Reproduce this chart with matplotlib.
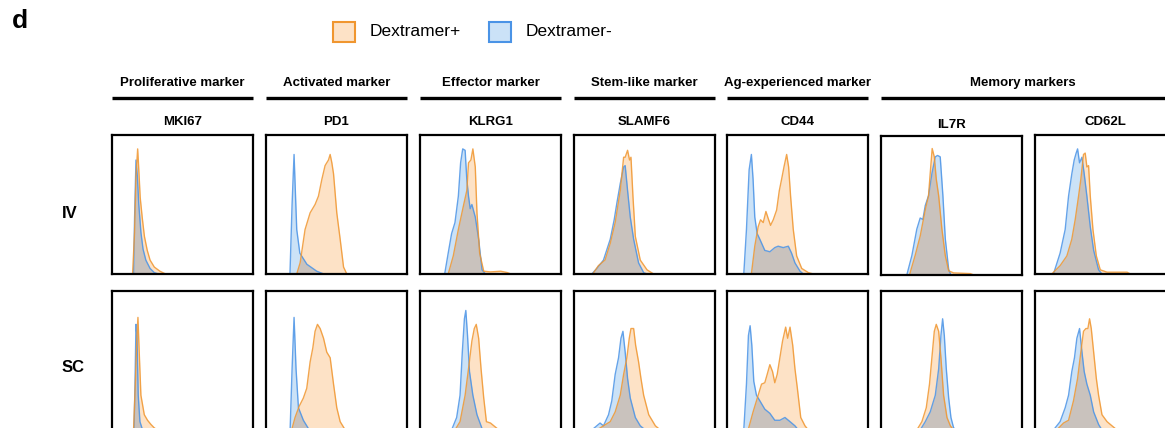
import numpy as np
import matplotlib
matplotlib.use("Agg")
import matplotlib.pyplot as plt
from matplotlib.patches import Rectangle

plt.rcParams['font.family'] = ['Liberation Sans', 'DejaVu Sans']

# column headers
groups = ["Proliferative marker", "Activated marker", "Effector marker",
          "Stem-like marker", "Ag-experienced marker", "Memory markers"]
group_span = [(0, 0), (1, 1), (2, 2), (3, 3), (4, 4), (5, 6)]
markers = ["MKI67", "PD1", "KLRG1", "SLAMF6", "CD44", "IL7R", "CD62L"]
rows = ["IV", "SC"]

# histogram outlines: (x % of panel width, height fraction)
# IV row, Dextramer+ (orange) / Dextramer- (blue)
iv_mki67_pos = [(14.6, 0), (16, .3), (17, .7), (18.2, .9), (19, .75), (20, .55), (21.5, .4),
                (23, .27), (25, .17), (27, .1), (30, .05), (34, .02), (38, 0)]
iv_mki67_neg = [(15.3, 0), (16, .4), (17, .82), (18, .7), (19, .5), (20.5, .3), (22, .18),
                (24, .1), (27, .04), (30, .01), (33, 0)]
iv_pd1_pos = [(21.8, 0), (24.2, .08), (27.7, .32), (31.3, .44), (34.8, .5), (37.2, .56),
              (39.6, .68), (41.9, .78), (44.3, .82), (45.5, .86), (46.7, .8), (47.9, .72),
              (50.2, .44), (52.6, .25), (55, .05), (57.3, 0)]
iv_pd1_neg = [(17, 0), (18.5, .5), (19.9, .86), (20.8, .6), (21.8, .32), (24, .15),
              (29, .07), (36, .02), (41, 0)]
iv_klrg1_pos = [(20, 0), (23.6, .13), (27.2, .32), (30.8, .49), (33.2, .6), (34.4, .8),
                (36.1, .82), (37.5, .9), (39.2, .77), (40.4, .44), (42.3, .15), (45.2, .02),
                (50, .015), (57.2, .02), (62, .01), (64.4, 0)]
iv_klrg1_neg = [(17.5, 0), (20, .15), (22.4, .29), (24.8, .37), (27.2, .56), (28.8, .8),
                (30.3, .9), (32, .89), (33.2, .68), (34.4, .56), (35.6, .47), (36.8, .5),
                (39.2, .41), (41.6, .25), (44, .03), (46.4, 0)]
iv_slamf6_pos = [(13.3, 0), (17.3, .06), (22, .1), (25.7, .22), (29.2, .37), (32.8, .6),
                 (35.2, .84), (36.3, .84), (38, .89), (39.4, .82), (40.4, .84), (41.8, .56),
                 (43.5, .27), (47, .1), (51.8, .03), (56.5, 0)]
iv_slamf6_neg = [(12.6, 0), (16.2, .04), (20.9, .1), (25.7, .25), (28.5, .39), (30.4, .51),
                 (32.8, .65), (35.2, .77), (36.3, .78), (38, .6), (39.9, .41), (42.3, .25),
                 (45.8, .08), (49.4, .01), (51.8, 0)]
iv_cd44_pos = [(17.3, 0), (19.7, .2), (22.1, .34), (23.8, .39), (25.7, .37), (27.6, .45),
               (29.2, .4), (30.9, .35), (32.8, .39), (35.2, .46), (37.1, .6), (38.7, .68),
               (40.4, .77), (42.3, .86), (43.7, .77), (45.1, .56), (47, .32), (49.4, .13),
               (53, .04), (57.7, .01), (61.3, 0)]
iv_cd44_neg = [(11.9, 0), (13.8, .32), (15.7, .75), (17.3, .86), (18.5, .68), (19.7, .41),
               (21.4, .29), (23.3, .25), (26.8, .17), (30.4, .16), (33.9, .19), (36.3, .2),
               (39.9, .19), (43.5, .2), (45.8, .15), (48.2, .08), (51.8, .02), (54.2, 0)]
iv_il7r_pos = [(20.2, 0), (24.2, .14), (27.8, .28), (31.4, .47), (33.7, .57), (34.9, .73),
               (36.3, .91), (37.8, .85), (39.2, .69), (40.9, .57), (43.2, .33), (45.6, .14),
               (48, .03), (51.5, .015), (63.4, .01), (65.8, 0)]
iv_il7r_neg = [(18.3, 0), (21.9, .14), (25.4, .33), (27.8, .41), (29.7, .4), (31.4, .5),
               (33.7, .57), (36.1, .73), (38.5, .85), (40.1, .86), (42, .85), (43.9, .57),
               (45.6, .26), (48, .04), (49.6, 0)]
iv_cd62l_pos = [(11.9, 0), (17.8, .06), (22.6, .13), (26.1, .25), (28.5, .39), (30.9, .56),
                (32.5, .68), (34.4, .86), (35.6, .87), (36.8, .77), (38, .78), (39.2, .56),
                (41.1, .32), (43.5, .13), (46.3, .03), (51.1, .013), (65.3, .013), (67.7, 0)]
iv_cd62l_neg = [(13.1, 0), (17.8, .15), (21.4, .32), (23.8, .56), (26.1, .72), (27.8, .82),
                (29.2, .87), (30.2, .9), (31.6, .8), (33.3, .84), (34.9, .72), (36.8, .56),
                (39.2, .34), (41.6, .17), (45.1, .03), (47.5, 0)]

# SC row
sc_mki67_pos = [(15.3, 0), (16.5, .32), (17.7, .68), (18.4, .81), (19.3, .56), (20.5, .25),
                (22.9, .11), (25.2, .07), (27.6, .04), (30, .015), (32.3, 0)]
sc_mki67_neg = [(15.6, 0), (16.3, .32), (17, .76), (17.7, .68), (18.6, .25), (19.8, .06),
                (21.7, 0)]
sc_pd1_pos = [(18.2, 0), (20.6, .09), (23.5, .17), (26.5, .23), (28.9, .3), (31.3, .49),
              (33.2, .59), (34.8, .71), (36.5, .76), (38.4, .73), (40.8, .66), (43.1, .56),
              (45.5, .52), (47.9, .33), (50.2, .16), (52.6, .06), (56.2, 0)]
sc_pd1_neg = [(17.1, 0), (18.5, .44), (19.9, .81), (21.3, .44), (23, .16), (26.5, .07),
              (30.1, .01), (32.5, 0)]
sc_klrg1_pos = [(24.8, 0), (28.4, .06), (32, .25), (34.4, .44), (36.8, .64), (38.5, .73),
                (39.9, .76), (41.6, .66), (43.3, .44), (45.2, .23), (47.1, .06), (50, .05),
                (52.4, .03), (56, 0)]
sc_klrg1_neg = [(22.4, 0), (26, .09), (28.4, .25), (30, .56), (31.5, .8), (32.5, .86),
                (33.7, .68), (35.1, .42), (37.5, .25), (40.4, .11), (44, .01), (46.4, 0)]
sc_slamf6_pos = [(16.2, 0), (20.9, .03), (25.7, .06), (29.2, .13), (32.8, .25), (35.2, .4),
                 (37.5, .52), (39.2, .66), (40.4, .73), (42.3, .73), (43.7, .61), (45.8, .49),
                 (47.5, .37), (49.4, .25), (53, .11), (57.7, .03), (61.3, 0)]
sc_slamf6_neg = [(12.6, 0), (15, .02), (18.5, .05), (20.9, .03), (24.5, .11), (26.8, .21),
                 (29.2, .4), (31.6, .52), (33.3, .66), (34.7, .71), (36.3, .56), (38, .37),
                 (39.9, .23), (43.5, .09), (47, .03), (50.6, 0)]
sc_cd44_pos = [(15, 0), (18.5, .13), (22.1, .25), (24.5, .33), (26.8, .34), (28.5, .4),
               (30.4, .47), (32.3, .42), (33.9, .34), (35.6, .4), (37.5, .52), (39.4, .64),
               (41.6, .74), (43, .66), (44.7, .74), (46.6, .61), (48.2, .44), (49.9, .3),
               (52.3, .09), (55.3, .03), (57.7, 0)]
sc_cd44_neg = [(11.9, 0), (13.8, .33), (15.2, .68), (16.4, .75), (17.6, .61), (19, .35),
               (20.9, .25), (23.3, .21), (26.8, .15), (30.4, .12), (33.9, .07), (37.5, .07),
               (41.1, .09), (44.7, .06), (48.2, .03), (50.6, 0)]
sc_il7r_pos = [(25.4, 0), (29, .06), (32.1, .16), (34.4, .33), (36.1, .52), (37.8, .71),
               (39.2, .76), (40.9, .71), (42.5, .52), (44.4, .25), (46.8, .09), (49.2, .03),
               (51.5, 0)]
sc_il7r_neg = [(27.8, 0), (31.4, .06), (34.9, .13), (38.5, .25), (40.9, .44), (42.5, .68),
               (43.7, .8), (44.9, .68), (46.3, .44), (48, .23), (49.6, .09), (51.5, .015),
               (53.9, 0)]
sc_cd62l_pos = [(15.4, 0), (20.2, .05), (23.8, .07), (27.3, .21), (30.2, .37), (32.5, .56),
                (34.4, .71), (36.1, .73), (37.5, .73), (38.7, .8), (39.9, .73), (41.6, .56),
                (43.5, .37), (45.1, .25), (47.5, .11), (51.1, .06), (54.6, .03), (58.2, 0)]
sc_cd62l_neg = [(13.1, 0), (17.8, .06), (21.4, .16), (23.8, .25), (26.1, .42), (28, .52),
                (29.7, .66), (31.6, .73), (33.3, .56), (34.9, .42), (36.8, .33), (39.2, .25),
                (41.6, .13), (45.1, .04), (47.5, 0)]

curves = {
    ("IV", "MKI67"): (iv_mki67_pos, iv_mki67_neg), ("IV", "PD1"): (iv_pd1_pos, iv_pd1_neg),
    ("IV", "KLRG1"): (iv_klrg1_pos, iv_klrg1_neg), ("IV", "SLAMF6"): (iv_slamf6_pos, iv_slamf6_neg),
    ("IV", "CD44"): (iv_cd44_pos, iv_cd44_neg), ("IV", "IL7R"): (iv_il7r_pos, iv_il7r_neg),
    ("IV", "CD62L"): (iv_cd62l_pos, iv_cd62l_neg),
    ("SC", "MKI67"): (sc_mki67_pos, sc_mki67_neg), ("SC", "PD1"): (sc_pd1_pos, sc_pd1_neg),
    ("SC", "KLRG1"): (sc_klrg1_pos, sc_klrg1_neg), ("SC", "SLAMF6"): (sc_slamf6_pos, sc_slamf6_neg),
    ("SC", "CD44"): (sc_cd44_pos, sc_cd44_neg), ("SC", "IL7R"): (sc_il7r_pos, sc_il7r_neg),
    ("SC", "CD62L"): (sc_cd62l_pos, sc_cd62l_neg),
}

ORANGE, ORANGE_FILL = "#f0962f", "#fde2c6"
BLUE, BLUE_FILL = "#4a93e6", "#cbe2f7"
OVERLAP = "#c9c2bd"

W, H = 1165, 428
fig = plt.figure(figsize=(W / 100, H / 100), dpi=100)

col_left = [112, 266, 420, 574, 727, 881, 1035]
pw, ph = 141, 139
row_top = [135, 291]

grid = np.linspace(0, 100, 2001)
for r, row in enumerate(rows):
    for c, m in enumerate(markers):
        top = row_top[r] + (1 if (r == 0 and c == 5) else 0)
        ax = fig.add_axes([col_left[c] / W, 1 - (top + ph) / H, pw / W, ph / H])
        pos, neg = curves[(row, m)]
        px, py = zip(*pos)
        nx, ny = zip(*neg)
        o = np.interp(grid, px, py, left=0, right=0)
        b = np.interp(grid, nx, ny, left=0, right=0)
        ax.fill_between(grid, o, color=ORANGE_FILL, lw=0)
        ax.fill_between(grid, b, color=BLUE_FILL, lw=0)
        ax.fill_between(grid, np.minimum(o, b), color=OVERLAP, lw=0)
        ax.plot(nx, ny, color=BLUE, lw=1.0, alpha=0.85)
        ax.plot(px, py, color=ORANGE, lw=1.0, alpha=0.85)
        ax.set_xlim(0, 100)
        ax.set_ylim(0, 1)
        ax.set_xticks([])
        ax.set_yticks([])
        for s in ax.spines.values():
            s.set_linewidth(1.6)
            s.set_color("black")

# headers
for g, (a, b) in zip(groups, group_span):
    x0 = col_left[a] / W
    x1 = min(col_left[b] + pw, W) / W
    fig.add_artist(plt.Line2D([x0, x1], [1 - 98 / H] * 2, color="black", lw=2.4,
                              solid_capstyle="butt"))
    xc = (col_left[a] + min(col_left[b] + pw, W + 30)) / 2 / W
    if g == "Memory markers":
        xc = 1023 / W
    fig.text(xc, 1 - 83 / H, g, ha="center", va="center", fontsize=9.5, fontweight="bold")

for c, m in enumerate(markers):
    yy = 125 if m == "IL7R" else 122
    fig.text((col_left[c] + pw / 2) / W, 1 - yy / H, m, ha="center", va="center",
             fontsize=9.5, fontweight="bold")

for r, row in enumerate(rows):
    fig.text(62 / W, 1 - (213 if r == 0 else 368) / H, row, ha="left", va="center",
             fontsize=12, fontweight="bold")

fig.text(12 / W, 1 - 21 / H, "d", ha="left", va="center", fontsize=19, fontweight="bold")

# legend
for x, ec, fc, lab in [(333, ORANGE, ORANGE_FILL, "Dextramer+"), (489, BLUE, BLUE_FILL, "Dextramer-")]:
    fig.add_artist(Rectangle((x / W, 1 - 42 / H), 22 / W, 20 / H, transform=fig.transFigure,
                             facecolor=fc, edgecolor=ec, lw=1.5))
    fig.text((x + 37) / W, 1 - 32 / H, lab, ha="left", va="center", fontsize=12.5)

fig.savefig("out.png", dpi=100)
